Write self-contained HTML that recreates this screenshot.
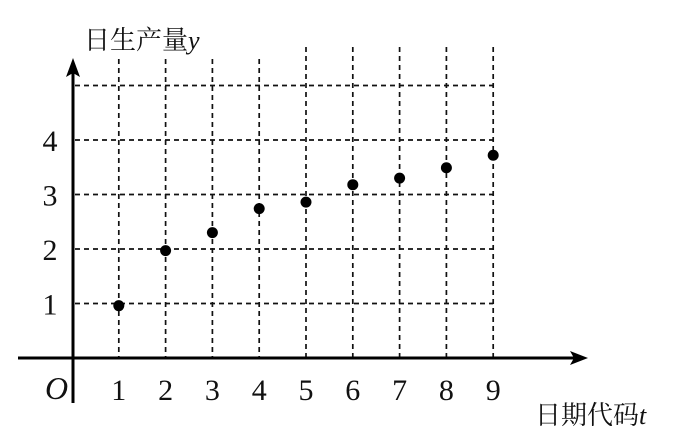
<!DOCTYPE html>
<html><head><meta charset="utf-8"><style>
body{margin:0;background:#fff;width:691px;height:440px;overflow:hidden}
svg{display:block}
text{font-family:"Liberation Serif","Noto Serif CJK SC",serif;fill:#111}
</style></head><body>
<svg id="chart" width="691" height="440" viewBox="0 0 691 440">
<g id="grid"></g>
<g id="axes">
<line x1="18" y1="358" x2="575" y2="358" stroke="#000" stroke-width="3"/>
<polygon points="588,358 570,351 574,358 570,365" fill="#000"/>
<line x1="73" y1="403" x2="73" y2="72" stroke="#000" stroke-width="3"/>
<polygon points="73,58 66,77 73,73 80,77" fill="#000"/>
<text x="84" y="49" font-size="26" font-family="'Noto Sans CJK SC',sans-serif" fill="#333">日生产量<tspan font-style="italic" font-family="Liberation Serif">y</tspan></text>
<text x="535" y="424" font-size="26" font-family="'Noto Sans CJK SC',sans-serif" fill="#333">日期代码<tspan font-style="italic" font-family="Liberation Serif">t</tspan></text>
<text x="45" y="399" font-size="32" font-style="italic">O</text>
</g>
<g id="ticks"></g>
<g id="points"></g>
</svg>
<script>
const xCategories=[1,2,3,4,5,6,7,8,9];
const yValues=[0.96,1.97,2.3,2.74,2.86,3.18,3.3,3.49,3.72];
const yTickLabels=[1,2,3,4];
const yGridValues=[1,2,3,4,5];
const NS="http://www.w3.org/2000/svg";
const xs=t=>72+t*46.8;
const ys=v=>358-v*54.5;
const grid=document.getElementById('grid'),ticks=document.getElementById('ticks'),pts=document.getElementById('points');
function mk(tag,a,p){const e=document.createElementNS(NS,tag);for(const k in a)e.setAttribute(k,a[k]);p.appendChild(e);return e;}
yGridValues.forEach(v=>{
 const l=mk('line',{x1:75,x2:xs(9),y1:ys(v),y2:ys(v),stroke:'#111','stroke-width':1.7,'stroke-dasharray':'5,4'},grid);
 
 
});
xCategories.forEach(t=>{
 const l=mk('line',{x1:xs(t),x2:xs(t),y1:t>=5?47:59,y2:358,stroke:'#111','stroke-width':1.7,'stroke-dasharray':'5,4'},grid);
 
 
 const tx=mk('text',{x:xs(t),y:400,'font-size':30,'text-anchor':'middle'},ticks);
 tx.textContent=t;
 
 
});
yTickLabels.forEach(v=>{
 const tx=mk('text',{x:50,y:ys(v)+11,'font-size':30,'text-anchor':'middle'},ticks);
 tx.textContent=v;
 
 
});
xCategories.forEach((t,i)=>{
 const c=mk('circle',{cx:xs(t),cy:ys(yValues[i]),r:5.5,fill:'#000'},pts);
 
 
});
</script>
</body></html>
